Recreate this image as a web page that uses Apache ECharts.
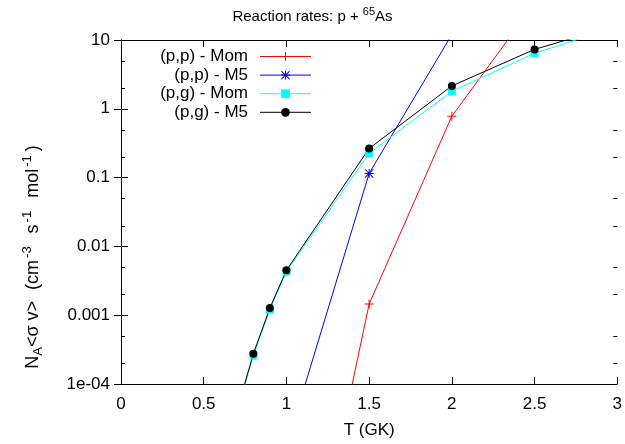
<!DOCTYPE html>
<html><head><meta charset="utf-8">
<script src="https://cdn.jsdelivr.net/npm/echarts@6/dist/echarts.min.js"></script>
<style>html,body{margin:0;padding:0;background:#fff}#c{width:625px;height:444px}</style>
</head><body><div id="c"></div>
<script>
// ---- data ----
const pgTemps = [0.7, 0.8, 0.9, 1.0, 1.5, 2.0, 2.5, 3.0];
const pgMom   = [3.8e-5, 2.6e-4, 1.2e-3, 4.3e-3, 0.225, 1.8, 6.4, 15.7];
const pgM5    = [4e-5, 2.75e-4, 1.27e-3, 4.5e-3, 0.265, 2.15, 7.3, 16.5];
const ppMomTemps = [1.0, 1.5, 2.0, 2.5];
const ppMom      = [3e-9, 1.45e-3, 0.78, 34];
const ppM5Temps  = [1.0, 1.5, 2.0];
const ppM5       = [1.25e-5, 0.115, 12];
const seriesNames = ['(p,p) - Mom', '(p,p) - M5', '(p,g) - Mom', '(p,g) - M5'];
const yTickLabels = {'-4': '1e-04', '-3': '0.001', '-2': '0.01', '-1': '0.1', '0': '1', '1': '10'};
const minorTicks = [2e-4, 5e-4, 2e-3, 5e-3, 0.02, 0.05, 0.2, 0.5, 2, 5];
const xMin = 0, xMax = 3, xStep = 0.5, yMin = 1e-4, yMax = 10;

const FONT = 'Liberation Sans';
const pair = (xs, ys) => xs.map((x, i) => [x, ys[i]]);

const plusPath = 'path://M4,0H5V4H9V5H5V9H4V5H0V4H4Z';
const starPath = 'path://M4,0H5V9H4Z M0,4H9V5H0Z M0,0.7L0.7,0L9,8.3L8.3,9Z M8.3,0L9,0.7L0.7,9L0,8.3Z';

const chart = echarts.init(document.getElementById('c'), null, {renderer: 'canvas'});
const axisCommon = {
  axisLine: {show: true, lineStyle: {color: '#000', width: 1}},
  splitLine: {show: false}
};
const txt = (size, extra) => Object.assign({fontFamily: FONT, fontSize: size, color: '#000', fontWeight: 'normal'}, extra || {});
chart.setOption({
  animation: false,
  backgroundColor: '#fff',
  textStyle: {fontFamily: FONT},
  title: {
    text: '{a|Reaction rates: p + }{s|65}{a|As}',
    left: 'center', top: 1,
    textStyle: {
      fontWeight: 'normal',
      rich: {
        a: txt(15, {lineHeight: 22}),
        s: txt(11, {lineHeight: 12, verticalAlign: 'top'})
      }
    }
  },
  grid: {left: 121, right: 5, top: 40, bottom: 59, containLabel: false},
  legend: {
    orient: 'vertical', left: 156, top: 48, padding: 0, itemGap: 1.6,
    align: 'right', itemWidth: 51, itemHeight: 11,
    data: seriesNames,
    lineStyle: {width: 1},
    formatter: n => '{t|' + n + '}',
    textStyle: {
      fontFamily: FONT, fontSize: 17, color: '#000', padding: [0, 7, 0, 0],
      rich: {t: txt(17, {width: 92, align: 'right', lineHeight: 18})}
    }
  },
  xAxis: [
    Object.assign({
      type: 'value', min: xMin, max: xMax, interval: xStep, position: 'bottom',
      name: 'T (GK)', nameLocation: 'middle', nameGap: 38,
      nameTextStyle: txt(17),
      axisTick: {show: true, inside: true, length: 7, lineStyle: {color: '#000'}},
      axisLabel: txt(17, {margin: 12})
    }, axisCommon),
    Object.assign({
      type: 'value', min: xMin, max: xMax, interval: xStep, position: 'top',
      axisTick: {show: true, inside: true, length: 7, lineStyle: {color: '#000'}},
      axisLabel: {show: false}
    }, axisCommon)
  ],
  yAxis: [
    Object.assign({
      type: 'log', logBase: 10, min: yMin, max: yMax, position: 'left',
      name: '{m|N}{b|A}{m|<σ v>}{m1| (cm}{p|-3}{m2| s}{p|-1}{m2| mol}{p|-1}{m3|)}',
      nameLocation: 'middle', nameGap: 76, nameRotate: 90,
      nameTextStyle: {
        padding: [0, 90, 0, 0],
        rich: {
          m: txt(18, {lineHeight: 24}),
          m1: txt(18, {lineHeight: 24, padding: [0, 0, 0, 6]}),
          m2: txt(18, {lineHeight: 24, padding: [0, 0, 0, 8]}),
          m3: txt(18, {lineHeight: 24, padding: [0, 0, 0, 4]}),
          b: txt(13, {lineHeight: 13, verticalAlign: 'bottom'}),
          p: txt(13, {lineHeight: 13, verticalAlign: 'top', padding: [0, 0, 0, 2]})
        }
      },
      axisTick: {show: true, inside: true, length: 7, lineStyle: {color: '#000'}},
      axisLabel: txt(17, {
        margin: 11,
        formatter: v => yTickLabels[String(Math.round(Math.log10(v)))] || ''
      })
    }, axisCommon),
    Object.assign({
      type: 'log', logBase: 10, min: yMin, max: yMax, position: 'right',
      axisTick: {show: true, inside: true, length: 7, lineStyle: {color: '#000'}},
      axisLabel: {show: false}
    }, axisCommon)
  ],
  series: [
    {
      type: 'custom', silent: true, clip: false, xAxisIndex: 0, yAxisIndex: 0, z: 5,
      data: minorTicks.map(v => [xMin, v]),
      renderItem: (params, api) => {
        const v = api.value(1);
        const l = api.coord([xMin, v]);
        const r = api.coord([xMax, v]);
        const y = Math.round(l[1]) + 0.5;
        return {type: 'group', children: [
          {type: 'line', shape: {x1: l[0], y1: y, x2: l[0] + 4, y2: y}, style: {stroke: '#000', lineWidth: 1}},
          {type: 'line', shape: {x1: r[0] - 4, y1: y, x2: r[0], y2: y}, style: {stroke: '#000', lineWidth: 1}}
        ]};
      }
    },
    {
      name: seriesNames[0], type: 'line', data: pair(ppMomTemps, ppMom),
      symbol: plusPath, symbolSize: 9, showAllSymbol: true,
      lineStyle: {color: '#ff0000', width: 1}, itemStyle: {color: '#ff0000'}
    },
    {
      name: seriesNames[1], type: 'line', data: pair(ppM5Temps, ppM5),
      symbol: starPath, symbolSize: 9, showAllSymbol: true,
      lineStyle: {color: '#0000ff', width: 1}, itemStyle: {color: '#0000ff'}
    },
    {
      name: seriesNames[2], type: 'line', data: pair(pgTemps, pgMom),
      symbol: 'rect', symbolSize: 8, showAllSymbol: true,
      lineStyle: {color: '#00ffff', width: 1}, itemStyle: {color: '#00ffff'}
    },
    {
      name: seriesNames[3], type: 'line', data: pair(pgTemps, pgM5),
      symbol: 'circle', symbolSize: 8, showAllSymbol: true,
      lineStyle: {color: '#000000', width: 1}, itemStyle: {color: '#000000'}
    }
  ]
});
</script>
</body></html>
